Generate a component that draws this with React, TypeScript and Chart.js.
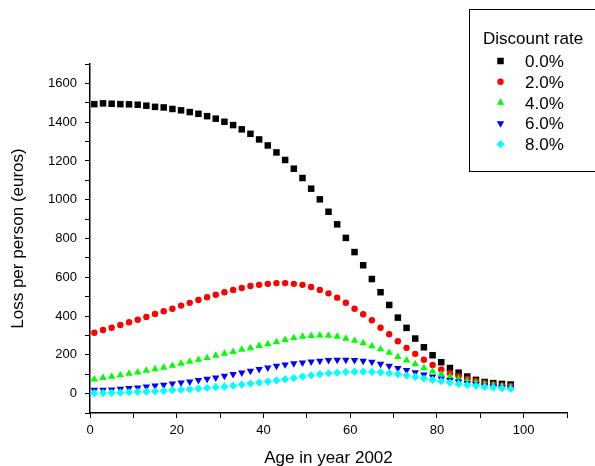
import React, { useEffect, useRef } from 'react';
import { Chart, registerables } from 'chart.js';

Chart.register(...registerables);

const ages = [1, 3, 5, 7, 9, 11, 13, 15, 17, 19, 21, 23, 25, 27, 29, 31, 33, 35, 37, 39, 41, 43, 45, 47, 49, 51, 53, 55, 57, 59, 61, 63, 65, 67, 69, 71, 73, 75, 77, 79, 81, 83, 85, 87, 89, 91, 93, 95, 97];

const rate0 = [1493, 1497, 1495, 1493, 1492, 1490, 1485, 1479, 1476, 1468, 1461, 1452, 1443, 1431, 1418, 1402, 1385, 1363, 1340, 1311, 1280, 1244, 1205, 1160, 1112, 1057, 1002, 938, 873, 803, 730, 662, 591, 523, 457, 392, 339, 284, 239, 198, 162, 132, 108, 88, 71, 60, 54, 50, 47];
const rate2 = [314, 328, 340, 354, 368, 381, 395, 411, 425, 438, 454, 468, 483, 497, 510, 523, 535, 545, 555, 561, 566, 570, 570, 566, 561, 550, 535, 517, 495, 469, 438, 409, 378, 340, 306, 270, 236, 205, 175, 148, 124, 105, 90, 76, 64, 54, 47, 42, 38];
const rate4 = [74, 81, 88, 95, 103, 110, 119, 127, 134, 144, 155, 165, 175, 184, 196, 206, 216, 227, 235, 246, 256, 266, 277, 287, 294, 298, 300, 299, 294, 284, 273, 261, 245, 229, 211, 190, 172, 152, 132, 115, 100, 88, 76, 66, 57, 49, 43, 38, 34];
const rate6 = [19, 19, 21, 24, 28, 31, 36, 41, 45, 52, 57, 62, 69, 76, 82, 91, 100, 108, 117, 126, 134, 143, 150, 156, 160, 165, 169, 172, 174, 174, 172, 169, 163, 153, 143, 131, 121, 110, 98, 88, 77, 69, 62, 54, 48, 41, 36, 33, 29];
const rate8 = [2, 3, 4, 5, 7, 9, 10, 12, 14, 18, 20, 23, 26, 29, 33, 36, 41, 46, 52, 57, 62, 68, 74, 80, 88, 94, 100, 105, 108, 112, 113, 113, 112, 110, 105, 100, 93, 86, 78, 71, 64, 57, 50, 45, 40, 35, 31, 28, 24];

const seriesLabels = ['0.0%', '2.0%', '4.0%', '6.0%', '8.0%'];
const legendTitle = 'Discount rate';
const xTitle = 'Age in year 2002';
const yTitle = 'Loss per person (euros)';

const FONT = '"Liberation Sans", Arial, Helvetica, sans-serif';
const colors = ['#000000', '#ff0000', '#00ff00', '#0000ff', '#00ffff'];
const pointStyles = ['rect', 'circle', 'triangle', 'triangle', 'rectRot'];
const rotations = [0, 0, 0, 180, 0];
const radii = [4.6, 3.2, 4.3, 4.3, 4.1];

function drawMarker(ctx: CanvasRenderingContext2D, i: number, x: number, y: number) {
  const r = radii[i];
  ctx.fillStyle = colors[i];
  ctx.beginPath();
  const s = pointStyles[i];
  if (s === 'rect') {
    const h = Math.SQRT1_2 * r;
    ctx.rect(x - h, y - h, 2 * h, 2 * h);
  } else if (s === 'circle') {
    ctx.arc(x, y, r, 0, Math.PI * 2);
  } else if (s === 'triangle') {
    let rad = (rotations[i] * Math.PI) / 180;
    ctx.moveTo(x + Math.sin(rad) * r, y - Math.cos(rad) * r);
    rad += (2 * Math.PI) / 3;
    ctx.lineTo(x + Math.sin(rad) * r, y - Math.cos(rad) * r);
    rad += (2 * Math.PI) / 3;
    ctx.lineTo(x + Math.sin(rad) * r, y - Math.cos(rad) * r);
    ctx.closePath();
  } else {
    ctx.moveTo(x, y - r);
    ctx.lineTo(x + r, y);
    ctx.lineTo(x, y + r);
    ctx.lineTo(x - r, y);
    ctx.closePath();
  }
  ctx.fill();
}

const legendPlugin = {
  id: 'discountLegend',
  afterDraw(chart: any) {
    const ctx: CanvasRenderingContext2D = chart.ctx;
    ctx.save();
    ctx.strokeStyle = '#000';
    ctx.lineWidth = 1;
    ctx.strokeRect(469.5, 9.5, 150, 162);
    ctx.fillStyle = '#000';
    ctx.font = `17px ${FONT}`;
    ctx.textBaseline = 'alphabetic';
    ctx.textAlign = 'left';
    ctx.fillText(legendTitle, 483, 43.5);
    seriesLabels.forEach((lab, i) => {
      const y = 61 + i * 20.8;
      drawMarker(ctx, i, 500.5, y);
      ctx.fillStyle = '#000';
      ctx.fillText(lab, 525, y + 6);
    });
    ctx.restore();
  },
};

export default function App() {
  const ref = useRef<HTMLCanvasElement | null>(null);

  useEffect(() => {
    if (!ref.current) return;
    const series = [rate0, rate2, rate4, rate6, rate8];
    const datasets = series.map((vals, i) => ({
      label: seriesLabels[i],
      data: ages.map((a, j) => ({ x: a, y: vals[j] })),
      showLine: false,
      pointStyle: pointStyles[i] as any,
      rotation: rotations[i],
      pointRadius: radii[i],
      pointHoverRadius: radii[i],
      pointBackgroundColor: colors[i],
      pointBorderColor: colors[i],
      pointBorderWidth: 0,
      backgroundColor: colors[i],
      borderColor: colors[i],
      order: 4 - i,
    }));

    const chart = new Chart(ref.current, {
      type: 'scatter',
      data: { datasets },
      plugins: [legendPlugin],
      options: {
        responsive: false,
        animation: false,
        events: [],
        layout: { padding: { top: 64, right: 28, left: 0, bottom: 0 } },
        plugins: {
          legend: { display: false },
          tooltip: { enabled: false },
          title: { display: false },
        },
        scales: {
          x: {
            type: 'linear',
            min: 0,
            max: 110,
            afterFit: (s: any) => {
              s.height = 53;
            },
            ticks: {
              stepSize: 10,
              autoSkip: false,
              maxRotation: 0,
              color: '#000',
              padding: 5,
              font: { family: FONT, size: 13 },
              callback: (v: any) => (Number(v) % 20 === 0 && Number(v) <= 100 ? String(v) : ''),
            },
            grid: {
              display: true,
              drawOnChartArea: false,
              drawTicks: true,
              tickLength: 5,
              color: '#000',
              tickWidth: 1,
            },
            border: { display: true, color: '#000', width: 1.5 },
            title: {
              display: true,
              text: xTitle,
              color: '#000',
              font: { family: FONT, size: 17 },
              padding: { top: 0, bottom: -3 },
            },
          },
          y: {
            type: 'linear',
            min: -100,
            max: 1700,
            afterFit: (s: any) => {
              s.width = 90;
            },
            ticks: {
              stepSize: 100,
              autoSkip: false,
              color: '#000',
              padding: 8,
              font: { family: FONT, size: 13 },
              callback: (v: any) => {
                const n = Number(v);
                return n % 200 === 0 && n >= 0 && n <= 1600 ? String(n) : '';
              },
            },
            grid: {
              display: true,
              drawOnChartArea: false,
              drawTicks: true,
              tickLength: 5,
              color: '#000',
              tickWidth: 1,
            },
            border: { display: true, color: '#000', width: 1.5 },
            title: {
              display: true,
              text: yTitle,
              color: '#000',
              font: { family: FONT, size: 17 },
              padding: { top: 8, bottom: 0 },
            },
          },
        },
      },
    });
    return () => chart.destroy();
  }, []);

  return (
    <div style={{ position: 'absolute', left: 0, top: 0, width: 595, height: 466, background: '#fff' }}>
      <canvas ref={ref} width={595} height={466} style={{ display: 'block', width: 595, height: 466 }} />
    </div>
  );
}
